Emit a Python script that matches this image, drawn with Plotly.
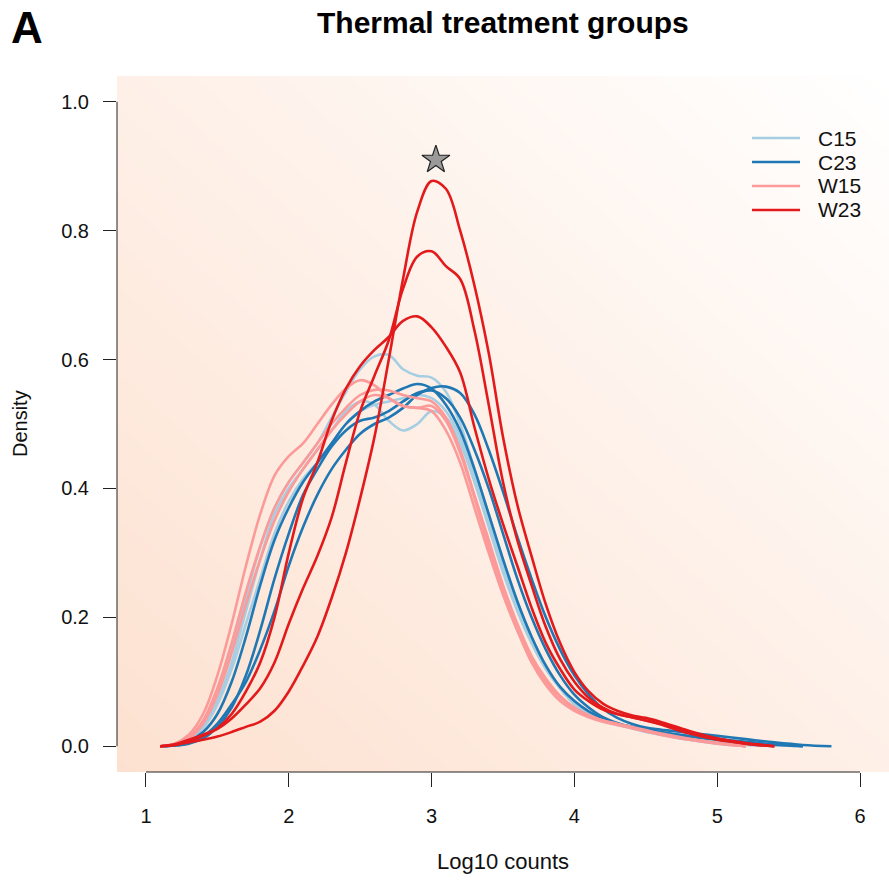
import plotly.graph_objects as go

# ---------------- data ----------------
x_grid = [1.1, 1.2, 1.3, 1.4, 1.5, 1.6, 1.7, 1.8, 1.9, 2.0,
          2.1, 2.2, 2.3, 2.4, 2.5, 2.6, 2.7, 2.8, 2.9, 3.0,
          3.1, 3.2, 3.3, 3.4, 3.5, 3.6, 3.7, 3.8, 3.9, 4.0,
          4.1, 4.2, 4.3, 4.4, 4.5, 4.6, 4.8, 5.0, 5.2, 5.4, 5.6, 5.8]

c15_a = [0, 0.003, 0.012, 0.035, 0.08, 0.15, 0.23, 0.31, 0.37, 0.41,
         0.44, 0.47, 0.51, 0.55, 0.585, 0.605, 0.607, 0.585, 0.575, 0.572,
         0.55, 0.50, 0.43, 0.36, 0.29, 0.225, 0.17, 0.125, 0.09, 0.065,
         0.05, 0.04, 0.034, 0.03, 0.025, 0.02, 0.012, 0.006, 0.002, 0.0]
c15_b = [0, 0.002, 0.01, 0.03, 0.07, 0.13, 0.21, 0.29, 0.36, 0.40,
         0.43, 0.46, 0.49, 0.52, 0.535, 0.53, 0.505, 0.49, 0.50, 0.52,
         0.51, 0.47, 0.41, 0.34, 0.27, 0.21, 0.16, 0.12, 0.09, 0.067,
         0.052, 0.042, 0.035, 0.03, 0.025, 0.02, 0.012, 0.005, 0.0]
c15_c = [0, 0.002, 0.01, 0.028, 0.065, 0.12, 0.19, 0.26, 0.33, 0.38,
         0.415, 0.44, 0.47, 0.50, 0.52, 0.53, 0.535, 0.54, 0.545, 0.54,
         0.52, 0.48, 0.42, 0.35, 0.28, 0.22, 0.165, 0.12, 0.09, 0.066,
         0.05, 0.04, 0.033, 0.028, 0.022, 0.018, 0.01, 0.004, 0.0]

c23_a = [0, 0.001, 0.005, 0.015, 0.035, 0.065, 0.1, 0.15, 0.21, 0.28,
         0.34, 0.39, 0.43, 0.46, 0.485, 0.50, 0.51, 0.525, 0.545, 0.556,
         0.558, 0.548, 0.515, 0.46, 0.395, 0.325, 0.26, 0.2, 0.15, 0.11,
         0.08, 0.058, 0.044, 0.035, 0.029, 0.026, 0.021, 0.016, 0.011, 0.006, 0.002, 0.0]
c23_b = [0, 0.002, 0.008, 0.022, 0.05, 0.1, 0.17, 0.25, 0.32, 0.37,
         0.41, 0.44, 0.47, 0.50, 0.52, 0.535, 0.545, 0.555, 0.562, 0.555,
         0.53, 0.49, 0.43, 0.36, 0.29, 0.225, 0.17, 0.125, 0.092, 0.07,
         0.054, 0.043, 0.035, 0.03, 0.026, 0.022, 0.015, 0.01, 0.005, 0.002, 0.0]
c23_c = [0, 0.001, 0.004, 0.012, 0.03, 0.06, 0.11, 0.18, 0.26, 0.33,
         0.39, 0.43, 0.465, 0.49, 0.505, 0.51, 0.52, 0.535, 0.548, 0.552,
         0.54, 0.51, 0.46, 0.40, 0.33, 0.26, 0.2, 0.15, 0.11, 0.08,
         0.06, 0.045, 0.036, 0.03, 0.026, 0.022, 0.016, 0.011, 0.007, 0.003, 0.0]

w15_a = [0, 0.004, 0.018, 0.05, 0.11, 0.19, 0.28, 0.36, 0.42, 0.45,
         0.47, 0.50, 0.53, 0.555, 0.568, 0.56, 0.54, 0.528, 0.525, 0.52,
         0.49, 0.44, 0.37, 0.30, 0.235, 0.18, 0.135, 0.1, 0.075, 0.058,
         0.047, 0.04, 0.035, 0.03, 0.025, 0.02, 0.012, 0.005, 0.0]
w15_b = [0, 0.003, 0.014, 0.04, 0.09, 0.16, 0.24, 0.31, 0.37, 0.41,
         0.44, 0.47, 0.50, 0.525, 0.545, 0.553, 0.552, 0.545, 0.54, 0.535,
         0.51, 0.46, 0.39, 0.32, 0.25, 0.19, 0.14, 0.105, 0.078, 0.06,
         0.048, 0.04, 0.034, 0.029, 0.024, 0.019, 0.011, 0.005, 0.0]
w15_c = [0, 0.003, 0.012, 0.035, 0.08, 0.145, 0.22, 0.29, 0.35, 0.395,
         0.43, 0.46, 0.49, 0.515, 0.535, 0.545, 0.54, 0.528, 0.525, 0.528,
         0.505, 0.455, 0.385, 0.31, 0.24, 0.18, 0.13, 0.095, 0.07, 0.055,
         0.045, 0.038, 0.033, 0.028, 0.023, 0.018, 0.01, 0.004, 0.0]

w23_a = [0, 0.002, 0.006, 0.01, 0.015, 0.022, 0.03, 0.038, 0.055, 0.085,
         0.125, 0.17, 0.23, 0.3, 0.385, 0.48, 0.6, 0.725, 0.83, 0.877,
         0.865, 0.80, 0.715, 0.61, 0.48, 0.375, 0.295, 0.22, 0.16, 0.115,
         0.085, 0.066, 0.055, 0.048, 0.044, 0.038, 0.024, 0.012, 0.004, 0.0]
w23_b = [0, 0.003, 0.01, 0.018, 0.027, 0.043, 0.065, 0.09, 0.13, 0.19,
         0.245, 0.295, 0.355, 0.44, 0.52, 0.575, 0.63, 0.71, 0.76, 0.768,
         0.745, 0.725, 0.645, 0.53, 0.41, 0.32, 0.25, 0.185, 0.135, 0.1,
         0.075, 0.06, 0.05, 0.045, 0.04, 0.035, 0.022, 0.012, 0.005, 0.0]
w23_c = [0, 0.002, 0.008, 0.016, 0.028, 0.05, 0.085, 0.13, 0.2, 0.3,
         0.385, 0.44, 0.505, 0.555, 0.59, 0.615, 0.635, 0.66, 0.667, 0.65,
         0.62, 0.58, 0.495, 0.415, 0.345, 0.28, 0.215, 0.16, 0.12, 0.088,
         0.07, 0.057, 0.05, 0.045, 0.04, 0.034, 0.02, 0.01, 0.004, 0.0]

group_names = ["C15", "C23", "W15", "W23"]
group_colors = ["#A6CEE3", "#1F78B4", "#FB9A99", "#E31A1C"]
group_curves = [[c15_a, c15_b, c15_c],
                [c23_a, c23_b, c23_c],
                [w15_a, w15_b, w15_c],
                [w23_a, w23_b, w23_c]]

peak_x = [3.03]
peak_y = [0.91]

x_ticks = [1, 2, 3, 4, 5, 6]
y_ticks = [0.0, 0.2, 0.4, 0.6, 0.8, 1.0]
x_range = [0.797, 6.203]
y_range = [-0.04, 1.04]

# ---------------- figure ----------------
FONT = "Liberation Sans, Arial, Helvetica, sans-serif"
fig = go.Figure()

# diagonal gradient background
n = 21
gx = [x_range[0] + (x_range[1] - x_range[0]) * i / (n - 1) for i in range(n)]
gy = [y_range[0] + (y_range[1] - y_range[0]) * i / (n - 1) for i in range(n)]
gz = [[(i + j) / (2 * (n - 1)) for i in range(n)] for j in range(n)]
fig.add_trace(go.Heatmap(x=gx, y=gy, z=gz, zsmooth="best", showscale=False,
                         colorscale=[[0, "#FDE1D0"], [1, "#FFFFFF"]],
                         hoverinfo="skip"))

for name, color, curves in zip(group_names, group_colors, group_curves):
    for k, yv in enumerate(curves):
        fig.add_trace(go.Scatter(x=x_grid[:len(yv)], y=yv, mode="lines",
                                 line=dict(color=color, width=2.6, shape="spline", smoothing=1.0),
                                 name=name, showlegend=False, hoverinfo="skip"))

fig.add_trace(go.Scatter(x=peak_x, y=peak_y, mode="markers",
                         marker=dict(symbol="star", size=21, color="#9A9A9A",
                                     line=dict(color="#222222", width=1.2)),
                         showlegend=False, hoverinfo="skip"))

# R-style detached axis lines
fig.add_shape(type="line", xref="x", yref="paper", x0=x_ticks[0], x1=x_ticks[-1], y0=0, y1=0,
              line=dict(color="#222222", width=1))
fig.add_shape(type="line", xref="paper", yref="y", x0=0, x1=0, y0=y_ticks[0], y1=y_ticks[-1],
              line=dict(color="#222222", width=1))

# manual legend
leg_y = [0.9109, 0.8764, 0.8420, 0.8075]
for name, color, ly in zip(group_names, group_colors, leg_y):
    fig.add_shape(type="line", xref="paper", yref="paper", x0=0.8225, x1=0.8847, y0=ly, y1=ly,
                  line=dict(color=color, width=2.6))
    fig.add_annotation(xref="paper", yref="paper", x=0.906, y=ly, text=name, showarrow=False,
                       xanchor="left", yanchor="middle", font=dict(family=FONT, size=21, color="#111111"))

fig.add_annotation(xref="paper", yref="paper", x=0.5, y=1.0762, text="<b>Thermal treatment groups</b>",
                   showarrow=False, xanchor="center", yanchor="middle",
                   font=dict(family=FONT, size=30, color="#000000"))
fig.add_annotation(xref="paper", yref="paper", x=-0.1166, y=1.069, text="<b>A</b>",
                   showarrow=False, xanchor="center", yanchor="middle",
                   font=dict(family=FONT, size=44, color="#000000"))
fig.add_annotation(xref="paper", yref="paper", x=0.5, y=-0.1293, text="Log10 counts",
                   showarrow=False, xanchor="center", yanchor="middle",
                   font=dict(family=FONT, size=22, color="#111111"))
fig.add_annotation(xref="paper", yref="paper", x=-0.1256, y=0.5, text="Density", textangle=-90,
                   showarrow=False, xanchor="center", yanchor="middle",
                   font=dict(family=FONT, size=20, color="#111111"))

fig.update_xaxes(range=x_range, tickvals=x_ticks, ticktext=[str(v) for v in x_ticks],
                 ticks="outside", ticklen=14, tickwidth=1, tickcolor="#222222",
                 showgrid=False, zeroline=False, showline=False, ticklabelstandoff=12,
                 tickfont=dict(family=FONT, size=20, color="#111111"))
fig.update_yaxes(range=y_range, tickvals=y_ticks, ticktext=["%.1f" % v for v in y_ticks],
                 ticks="outside", ticklen=13, tickwidth=1, tickcolor="#222222",
                 showgrid=False, zeroline=False, showline=False, ticklabelstandoff=10,
                 tickfont=dict(family=FONT, size=20, color="#111111"))

fig.update_layout(width=889, height=881, margin=dict(l=117, r=0, t=76, b=109),
                  paper_bgcolor="#FFFFFF", plot_bgcolor="#FFFFFF", showlegend=False)

fig.write_html("out.html", config={"displayModeBar": False, "staticPlot": True},
               post_script="document.body.style.margin='0px';document.body.style.overflow='hidden';")
